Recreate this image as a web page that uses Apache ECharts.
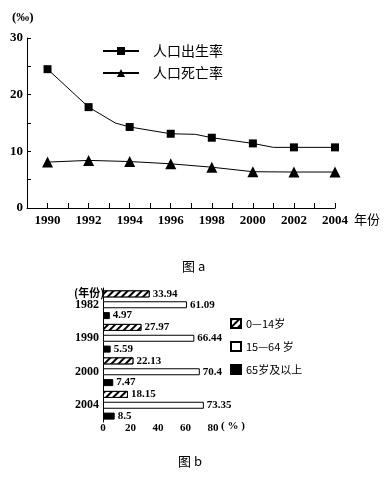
<!DOCTYPE html>
<html><head><meta charset="utf-8">
<script src="https://cdn.jsdelivr.net/npm/echarts@6/dist/echarts.min.js"></script>
<style>html,body{margin:0;padding:0;background:#fff}#c{width:390px;height:488px}</style>
</head><body><div id="c"></div>
<script>
// ---- Chart a: birth and death rates (‰) ----
var birthName = '人口出生率';
var deathName = '人口死亡率';
// [year, value]; vertices without marker carry mark:false
var birthYears = [1990, 1992, 1993.3, 1994, 1996, 1997.2, 1998, 2000, 2001, 2002, 2004];
var birthValues = [24.5, 17.8, 15.0, 14.3, 13.1, 13.0, 12.4, 11.4, 10.7, 10.7, 10.7];
var birthMarked = [true, true, false, true, true, false, true, true, false, true, true];
var deathYears = [1990, 1992, 1994, 1996, 1998, 2000, 2002, 2004];
var deathValues = [8.1, 8.4, 8.2, 7.8, 7.2, 6.4, 6.35, 6.35];
var yearTickLabels = [1990, 1992, 1994, 1996, 1998, 2000, 2002, 2004];
var rateTickLabels = [0, 10, 20, 30];

// ---- Chart b: age structure (%) ----
var ageYears = ['1982', '1990', '2000', '2004'];
var ageNames = ['0—14岁', '15—64 岁', '65岁及以上'];
var age0to14 = [33.94, 27.97, 22.13, 18.15];
var age15to64 = [61.09, 66.44, 70.4, 73.35];
var age65plus = [4.97, 5.59, 7.47, 8.5];
var shareTickLabels = [0, 20, 40, 60, 80];

var serif = '"Liberation Serif","DejaVu Serif",serif';
var cjk = '"Noto Sans CJK SC","Liberation Serif",serif';

function pairs(xs, ys, marks) {
  return xs.map(function (x, i) {
    var d = { value: [x, ys[i]] };
    if (marks && !marks[i]) d.symbol = 'none';
    return d;
  });
}

var hatch = {
  symbol: 'rect', color: '#000', backgroundColor: '#fff',
  dashArrayX: [1, 0], dashArrayY: [1.2, 2.6], rotation: -Math.PI / 4,
  symbolSize: 1
};

var chart = echarts.init(document.getElementById('c'), null, { renderer: 'canvas' });
chart.setOption({
  animation: false,
  backgroundColor: '#fff',
  grid: [
    { left: 27, width: 308, top: 38, height: 170 },
    { left: 103, width: 110, top: 288, height: 134 }
  ],
  legend: [
    {
      data: [birthName, deathName], orient: 'vertical', left: 97, top: 39,
      itemWidth: 36, itemHeight: 10, itemGap: 8,
      textStyle: { fontFamily: cjk, fontSize: 14, color: '#000', padding: [0, 0, 0, 9] }
    },
    {
      data: ageNames, orient: 'vertical', left: 225, top: 313, icon: 'rect',
      itemWidth: 10, itemHeight: 9, itemGap: 12,
      textStyle: { fontFamily: cjk, fontSize: 11, color: '#000', padding: [0, 0, 0, 0] }
    }
  ],
  xAxis: [
    {
      gridIndex: 0, type: 'value', min: 1989, max: 2004, interval: 1,
      axisLine: { lineStyle: { color: '#000', width: 1 } },
      axisTick: { inside: true, length: 5, lineStyle: { color: '#000' } },
      splitLine: { show: false },
      axisLabel: {
        color: '#000', fontFamily: serif, fontWeight: 'bold', fontSize: 13, margin: 6,
        formatter: function (v) { return yearTickLabels.indexOf(v) >= 0 ? String(v) : ''; }
      }
    },
    {
      gridIndex: 1, type: 'value', min: 0, max: 80, interval: 5,
      axisLine: { lineStyle: { color: '#000', width: 1 } },
      axisTick: { inside: true, length: 4, lineStyle: { color: '#000' } },
      splitLine: { show: false },
      axisLabel: {
        color: '#000', fontFamily: serif, fontWeight: 'bold', fontSize: 11, margin: 1,
        formatter: function (v) { return shareTickLabels.indexOf(v) >= 0 ? String(v) : ''; }
      }
    }
  ],
  yAxis: [
    {
      gridIndex: 0, type: 'value', min: 0, max: 30, interval: 5,
      axisLine: { show: true, lineStyle: { color: '#000', width: 1 } },
      axisTick: { show: true, inside: true, length: 4, lineStyle: { color: '#000' } },
      splitLine: { show: false },
      axisLabel: {
        color: '#000', fontFamily: serif, fontWeight: 'bold', fontSize: 13, margin: 4,
        formatter: function (v) { return rateTickLabels.indexOf(v) >= 0 ? String(v) : ''; }
      }
    },
    {
      gridIndex: 1, type: 'category', data: ageYears, inverse: true,
      axisLine: { show: true, lineStyle: { color: '#000', width: 1 } },
      axisTick: { show: false },
      axisLabel: { color: '#000', fontFamily: serif, fontWeight: 'bold', fontSize: 12, margin: 4 }
    }
  ],
  series: [
    {
      name: birthName, type: 'line', xAxisIndex: 0, yAxisIndex: 0,
      data: pairs(birthYears, birthValues, birthMarked),
      symbol: 'rect', symbolSize: 8, showAllSymbol: true,
      lineStyle: { color: '#000', width: 1 }, itemStyle: { color: '#000' }
    },
    {
      name: deathName, type: 'line', xAxisIndex: 0, yAxisIndex: 0,
      data: pairs(deathYears, deathValues),
      symbol: 'triangle', symbolSize: 11, showAllSymbol: true,
      lineStyle: { color: '#000', width: 1 }, itemStyle: { color: '#000' }
    },
    {
      name: ageNames[0], type: 'bar', xAxisIndex: 1, yAxisIndex: 1, data: age0to14,
      barWidth: 7, barGap: '55%',
      itemStyle: { color: '#fff', borderColor: '#000', borderWidth: 1, decal: hatch },
      label: { show: true, position: 'right', distance: 3, color: '#000', fontFamily: serif, fontWeight: 'bold', fontSize: 11 }
    },
    {
      name: ageNames[1], type: 'bar', xAxisIndex: 1, yAxisIndex: 1, data: age15to64,
      barWidth: 7, barGap: '55%',
      itemStyle: { color: '#fff', borderColor: '#000', borderWidth: 1 },
      label: { show: true, position: 'right', distance: 3, color: '#000', fontFamily: serif, fontWeight: 'bold', fontSize: 11 }
    },
    {
      name: ageNames[2], type: 'bar', xAxisIndex: 1, yAxisIndex: 1, data: age65plus,
      barWidth: 7, barGap: '55%',
      itemStyle: { color: '#000', borderColor: '#000', borderWidth: 1 },
      label: { show: true, position: 'right', distance: 3, color: '#000', fontFamily: serif, fontWeight: 'bold', fontSize: 11 }
    }
  ],
  graphic: [
    { type: 'text', left: 12, top: 11, style: { text: '(‰)', font: 'bold 13px ' + serif, fill: '#000' } },
    { type: 'text', left: 354, top: 213, style: { text: '年份', font: '13px ' + cjk, fill: '#000' } },
    { type: 'text', left: 182, top: 260, style: { text: '图 a', font: '13px ' + cjk, fill: '#000' } },
    { type: 'text', left: 74, top: 287, style: { text: '(年份)', font: 'bold 11px ' + cjk, fill: '#000' } },
    { type: 'text', left: 221, top: 421, style: { text: '( % )', font: 'bold 11px ' + serif, fill: '#000' } },
    { type: 'text', left: 178, top: 455, style: { text: '图 b', font: '13px ' + cjk, fill: '#000' } }
  ]
});
</script>
</body></html>
